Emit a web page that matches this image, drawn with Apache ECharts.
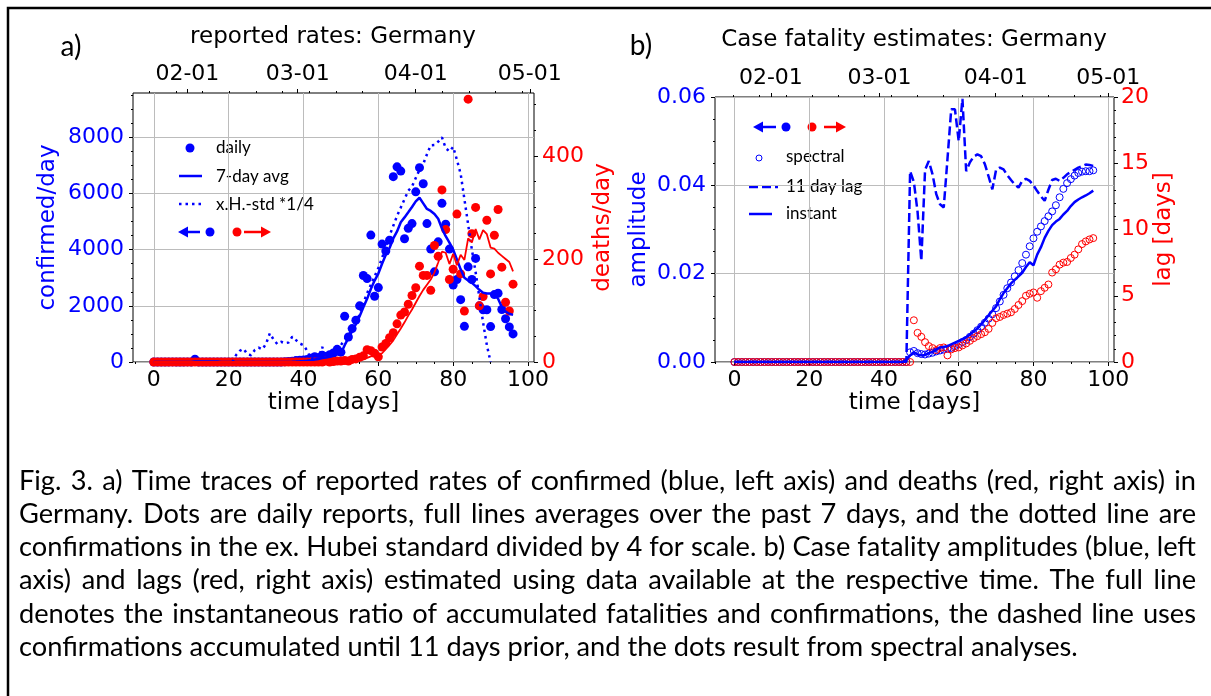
<!DOCTYPE html>
<html>
<head>
<meta charset="utf-8">
<title>Germany: reported rates and case fatality estimates</title>
<script src="https://cdn.jsdelivr.net/npm/echarts@6.0.0/dist/echarts.min.js"></script>
<style>
  html, body { margin: 0; padding: 0; background: #fff; }
  #chart { width: 1211px; height: 696px; }
</style>
</head>
<body>
<div id="chart"></div>
<script>
// day index 0 = 2020-01-23, one value per day (0..96)

// panel a) confirmed per day (left axis)
const confirmedDaily = [
  0, 0, 0, 0, 1, 4, 0, 1, 0, 3,
  0, 100, 0, 1, 0, 0, 2, 0, 0, 0,
  0, 0, 0, 0, 0, 0, 0, 0, 0, 0,
  0, 0, 0, 0, 1, 10, 20, 30, 50, 60,
  70, 90, 130, 190, 150, 240, 200, 260, 320, 450,
  350, 1630, 890, 1190, 1490, 2000, 3080, 2970, 4520, 2340,
  2650, 4200, 3950, 4340, 6600, 6950, 6800, 4390, 4760, 4930,
  6060, 6920, 6350, 4930, 4020, 3210, 4280, 5650, 4910, 4020,
  2740, 2940, 2220, 1270, 3390, 2940, 3690, 2000, 1860, 1860,
  1260, 2400, 2450, 1870, 1540, 1250, 1000
]
const confirmedAvg = [
  0, 0, 0, 0, 0, 0, 0, 0, 0, 0,
  0, 14, 14, 14, 14, 14, 15, 15, 0, 0,
  0, 0, 0, 0, 0, 0, 0, 0, 0, 0,
  0, 0, 0, 0, 0, 2, 4, 9, 16, 24,
  34, 47, 64, 89, 110, 140, 160, 190, 220, 270,
  300, 600, 850, 1100, 1350, 1630, 1950, 2250, 2600, 2900,
  3150, 3500, 3820, 4060, 4400, 4650, 4980, 5150, 5330, 5520,
  5720, 5850, 5650, 5450, 5380, 5270, 5100, 4750, 4480, 4250,
  4000, 3650, 3300, 3000, 2900, 2820, 2700, 2570, 2470, 2440,
  2440, 2420, 2250, 1960, 1800, 1720, 1680
]
// ex-Hubei standard divided by 4 (dotted)
const xHubeiQuarter = [
  null, null, null, null, null, null, null, null, null, null,
  null, null, null, null, null, null, null, null, null, null,
  null, 0, 250, 400, 470, 280, 240, 430, 510, 450,
  650, 1020, 800, 640, 720, 670, 690, 900, 780, 660,
  600, 400, 100, 150, 120, 540, 150, 250, 300, 420,
  600, 800, 950, 1150, 1400, 1700, 2100, 2450, 2750, 3050,
  3350, 3700, 4100, 4500, 4850, 5200, 5500, 5800, 6100, 6250,
  6550, 6850, 7050, 7400, 7720, 7730, 7850, 8000, 7620, 7500,
  7660, 7200, 6700, 5800, 4900, 4000, 3200, 2300, 1400, 600,
  0, null, null, null, null, null, null
]
// deaths per day (right axis)
const deathsDaily = [
  0, 0, 0, 0, 0, 0, 0, 0, 0, 0,
  0, 0, 0, 0, 0, 0, 0, 0, 0, 0,
  0, 0, 0, 0, 0, 0, 0, 0, 0, 0,
  0, 0, 0, 0, 0, 0, 0, 0, 0, 0,
  0, 0, 0, 0, 0, 0, 2, 0, 1, 2,
  2, 3, 2, 5, 6, 9, 12, 24, 22, 17,
  10, 29, 36, 47, 57, 74, 91, 97, 112, 129,
  144, 186, 168, 168, 139, 226, 205, 334, 257, 160,
  180, 287, 171, 99, 510, 249, 300, 109, 127, 275,
  171, 246, 296, 184, 116, 99, 151
]
const deathsAvg = [
  0, 0, 0, 0, 0, 0, 0, 0, 0, 0,
  0, 0, 0, 0, 0, 0, 0, 0, 0, 0,
  0, 0, 0, 0, 0, 0, 0, 0, 0, 0,
  0, 0, 0, 0, 0, 0, 0, 0, 0, 0,
  0, 0, 0, 0, 0, 0, 0, 0, 0, 1,
  1, 1, 2, 2, 3, 4, 5, 8, 11, 13,
  14, 17, 25, 33, 42, 54, 65, 77, 90, 102,
  115, 128, 140, 150, 160, 174, 193, 214, 212, 190,
  210, 188, 208, 198, 240, 232, 258, 238, 256, 248,
  222, 220, 212, 206, 200, 194, 176
]

// panel b) case fatality estimates
const spectralAmp = [
  0, 0, 0, 0, 0, 0, 0, 0, 0, 0,
  0, 0, 0, 0, 0, 0, 0, 0, 0, 0,
  0, 0, 0, 0, 0, 0, 0, 0, 0, 0,
  0, 0, 0, 0, 0, 0, 0, 0, 0, 0,
  0, 0, 0, 0, 0, 0, 0, 0.0022, 0.0025, 0.0020,
  0.0018, 0.0017, 0.0019, 0.0021, 0.0024, 0.0026, 0.0028, 0.0030, 0.0032, 0.0036,
  0.0040, 0.0045, 0.0050, 0.0057, 0.0064, 0.0072, 0.0080, 0.0089, 0.0098, 0.0108,
  0.0122, 0.0137, 0.0152, 0.0167, 0.0180, 0.0194, 0.0208, 0.0224, 0.0243, 0.0262,
  0.0280, 0.0295, 0.0307, 0.0319, 0.0330, 0.0341, 0.0355, 0.0373, 0.0392, 0.0405,
  0.0414, 0.0422, 0.0428, 0.0431, 0.0432, 0.0432, 0.0434
]
const spectralLag = [
  0, 0, 0, 0, 0, 0, 0, 0, 0, 0,
  0, 0, 0, 0, 0, 0, 0, 0, 0, 0,
  0, 0, 0, 0, 0, 0, 0, 0, 0, 0,
  0, 0, 0, 0, 0, 0, 0, 0, 0, 0,
  0, 0, 0, 0, 0, 0, 0, 0, 3.15, 2.2,
  1.9, 1.5, 1.2, 1.05, 0.9, 1.05, 1.1, 0.5, 0.95, 1.05,
  1.1, 1.25, 1.4, 1.6, 1.8, 1.95, 2.1, 2.25, 2.5, 2.95,
  3.3, 3.4, 3.55, 3.65, 3.75, 4.0, 4.3, 4.6, 5.0, 5.15,
  5.25, 4.85, 5.35, 5.6, 5.85, 6.75, 7.0, 7.35, 7.5, 7.55,
  7.85, 8.1, 8.5, 8.9, 9.1, 9.25, 9.35
]
const lag11Amp = [
  0, 0, 0, 0, 0, 0, 0, 0, 0, 0,
  0, 0, 0, 0, 0, 0, 0, 0, 0, 0,
  0, 0, 0, 0, 0, 0, 0, 0, 0, 0,
  0, 0, 0, 0, 0, 0, 0, 0, 0, 0,
  0, 0, 0, 0, 0, 0, 0, 0.0432, 0.0408, 0.0340,
  0.0229, 0.0435, 0.0455, 0.0425, 0.0380, 0.0357, 0.0350, 0.0460, 0.0572, 0.0572,
  0.0500, 0.0596, 0.0432, 0.0452, 0.0465, 0.0470, 0.0466, 0.0448, 0.0420, 0.0391,
  0.0435, 0.0440, 0.0436, 0.0423, 0.0412, 0.0402, 0.0395, 0.0410, 0.0415, 0.0410,
  0.0400, 0.0387, 0.0375, 0.0365, 0.0390, 0.0412, 0.0415, 0.0410, 0.0417, 0.0425,
  0.0430, 0.0435, 0.0440, 0.0443, 0.0447, 0.0446, 0.0444
]
const instantAmp = [
  0, 0, 0, 0, 0, 0, 0, 0, 0, 0,
  0, 0, 0, 0, 0, 0, 0, 0, 0, 0,
  0, 0, 0, 0, 0, 0, 0, 0, 0, 0,
  0, 0, 0, 0, 0, 0, 0, 0, 0, 0,
  0, 0, 0, 0, 0, 0, 0.0005, 0.0015, 0.0022, 0.0017,
  0.0015, 0.0016, 0.0020, 0.0023, 0.0028, 0.0033, 0.0034, 0.0036, 0.0040, 0.0044,
  0.0048, 0.0052, 0.0056, 0.0062, 0.0069, 0.0076, 0.0085, 0.0095, 0.0106, 0.0116,
  0.0126, 0.0142, 0.0156, 0.0167, 0.0178, 0.0186, 0.0194, 0.0202, 0.0215, 0.0226,
  0.0219, 0.0243, 0.0260, 0.0281, 0.0297, 0.0310, 0.0318, 0.0324, 0.0334, 0.0342,
  0.0353, 0.0362, 0.0368, 0.0373, 0.0377, 0.0382, 0.0388
]

// tick labels
const dayTicks = [0, 20, 40, 60, 80, 100]
const monthDays = [9, 38, 69, 99]
const monthLabels = ['02-01', '03-01', '04-01', '05-01']
const weekDays = [-1, 6, 13, 20, 27, 34, 41, 48, 55, 62, 76, 83, 90, 97]
const confirmedTicks = [0, 2000, 4000, 6000, 8000]
const deathTicks = [0, 200, 400]
const amplitudeTicks = [0, 0.02, 0.04, 0.06]
const lagTicks = [0, 5, 10, 15, 20]

const captionLines = [
  'Fig. 3. a) Time traces of reported rates of confirmed (blue, left axis) and deaths (red, right axis) in',
  'Germany. Dots are daily reports, full lines averages over the past 7 days, and the dotted line are',
  'confirmations in the ex. Hubei standard divided by 4 for scale. b) Case fatality amplitudes (blue, left',
  'axis) and lags (red, right axis) estimated using data available at the respective time. The full line',
  'denotes the instantaneous ratio of accumulated fatalities and confirmations, the dashed line uses',
  'confirmations accumulated until 11 days prior, and the dots result from spectral analyses.'
]

// styles
const BLUE = '#0000ff'
const RED = '#ff0000'
const INK = '#000000'
const GRID_GRAY = '#bcbcbc'
const AXIS_FONT = 'DejaVu Sans'
const NOTE_FONT = 'Lato'

const toPairs = arr => arr.map((v, i) => [i, v])

// minor tick positions between the major ones
const minorTicks = (from, to, step, majorStep) => {
  const out = []
  const n = Math.round((to - from) / step)
  for (let k = 0; k <= n; k++) {
    const v = +(from + k * step).toFixed(6)
    const r = v / majorStep
    if (Math.abs(r - Math.round(r)) > 1e-6) out.push(v)
  }
  return out
}

const axis = o => ({
  type: 'value',
  gridIndex: o.grid,
  position: o.position,
  min: o.min,
  max: o.max,
  name: o.name || '',
  nameLocation: 'middle',
  nameGap: o.nameGap || 0,
  nameTextStyle: { color: o.color || INK, fontFamily: AXIS_FONT, fontSize: 23 },
  axisLine: { show: false, onZero: false },
  axisTick: {
    show: true,
    inside: false,
    length: o.minor ? 2 : 4,
    customValues: o.ticks,
    lineStyle: { color: INK, width: 1 }
  },
  axisLabel: o.minor ? { show: false } : {
    show: true,
    customValues: o.ticks,
    formatter: o.format,
    color: o.color || INK,
    fontFamily: AXIS_FONT,
    fontSize: 22,
    margin: o.margin
  },
  splitLine: { show: !!o.split, lineStyle: { color: GRID_GRAY, width: 1 } },
  minorTick: { show: false },
  minorSplitLine: { show: false }
})

const plain = v => String(v)
const monthName = v => monthLabels[monthDays.indexOf(v)]

// ---- decorations: frame, panel letters, titles, legends, caption ----
const deco = []
const text = (str, x, y, font, fill, align) => ({
  type: 'text', x, y, silent: true,
  style: {
    text: str, font, fill: fill || INK,
    textAlign: align || 'left', textVerticalAlign: 'middle',
    align: align || 'left', verticalAlign: 'middle'
  }
})
const seg = (pts, color, width, dash) => ({
  type: 'polyline', silent: true,
  shape: { points: pts },
  style: { stroke: color, lineWidth: width, lineDash: dash || null, fill: null }
})
const dot = (cx, cy, r, color, hollow) => ({
  type: 'circle', silent: true,
  shape: { cx, cy, r },
  style: hollow ? { fill: null, stroke: color, lineWidth: 1 } : { fill: color }
})
const head = (tipX, y, dir, color) => ({
  type: 'polygon', silent: true,
  shape: { points: [[tipX, y], [tipX - dir * 10, y - 5.5], [tipX - dir * 10, y + 5.5]] },
  style: { fill: color }
})

deco.push(seg([[8, 700], [8, 8], [1215, 8]], INK, 2.5))
deco.push(text('a)', 71, 47, '28px ' + NOTE_FONT, INK, 'center'))
deco.push(text('b)', 641, 46, '28px ' + NOTE_FONT, INK, 'center'))
deco.push(text('reported rates: Germany', 333, 37, '23px "' + AXIS_FONT + '"', INK, 'center'))
deco.push(text('Case fatality estimates: Germany', 914, 40, '23px "' + AXIS_FONT + '"', INK, 'center'))

// legend a)
const legFont = '17px ' + NOTE_FONT
deco.push(dot(190, 148, 4.5, BLUE))
deco.push(text('daily', 216, 148, legFont))
deco.push(seg([[179, 176], [202, 176]], BLUE, 2.5))
deco.push(text('7-day avg', 216, 177, legFont))
deco.push(seg([[179, 204], [202, 204]], BLUE, 2.5, [2.5, 4]))
deco.push(text('x.H.-std *1/4', 216, 205, legFont))
deco.push(seg([[186, 232], [200, 232]], BLUE, 2.5))
deco.push(head(178, 232, -1, BLUE))
deco.push(dot(210, 232, 4.5, BLUE))
deco.push(dot(237, 232, 4.5, RED))
deco.push(seg([[244, 232], [263, 232]], RED, 2.5))
deco.push(head(271, 232, 1, RED))

// legend b)
deco.push(seg([[761, 127], [776, 127]], BLUE, 2.5))
deco.push(head(753, 127, -1, BLUE))
deco.push(dot(786, 127, 4.5, BLUE))
deco.push(dot(812, 127, 4.5, RED))
deco.push(seg([[824, 127], [838, 127]], RED, 2.5))
deco.push(head(846, 127, 1, RED))
deco.push(dot(759, 158, 3, BLUE, true))
deco.push(text('spectral', 786, 157, legFont))
deco.push(seg([[749, 187], [778, 187]], BLUE, 2.5, [9, 4]))
deco.push(text('11 day lag', 786, 187, legFont))
deco.push(seg([[749, 214], [772, 214]], BLUE, 2.5))
deco.push(text('instant', 786, 214, legFont))

// caption, justified word by word like the original
const measure = document.createElement('canvas').getContext('2d')
const widthOf = (s, font) => { measure.font = font; return measure.measureText(s).width }
const capLeft = 19
const capWidth = 1177
const baseSize = 22
let widest = 0
captionLines.slice(0, 5).forEach(line => {
  widest = Math.max(widest, widthOf(line, baseSize + 'px ' + NOTE_FONT))
})
const capSize = baseSize * (capWidth - 2) / widest
const capFont = capSize.toFixed(2) + 'px ' + NOTE_FONT
captionLines.forEach((line, i) => {
  const y = 481 + i * 33.2
  const words = line.split(' ')
  const widths = words.map(w => widthOf(w, capFont))
  const total = widths.reduce((a, b) => a + b, 0)
  const last = i === captionLines.length - 1
  const gap = last ? widthOf(' ', capFont) : (capWidth - total) / (words.length - 1)
  let x = capLeft
  words.forEach((w, k) => {
    deco.push(text(w, x, y, capFont))
    x += widths[k] + gap
  })
})

const chart = echarts.init(document.getElementById('chart'), null, { renderer: 'canvas' })

const dots = color => ({ color, opacity: 1 })
const rings = color => ({ color: 'rgba(0,0,0,0)', borderColor: color, borderWidth: 1, opacity: 1 })

chart.setOption({
  backgroundColor: '#ffffff',
  animation: false,
  grid: [
    { left: 133, top: 93, width: 401, height: 269, show: true, borderColor: INK, borderWidth: 1, backgroundColor: 'transparent', outerBoundsMode: 'none' },
    { left: 715, top: 97, width: 399, height: 265, show: true, borderColor: INK, borderWidth: 1, backgroundColor: 'transparent', outerBoundsMode: 'none' }
  ],
  xAxis: [
    axis({ grid: 0, position: 'bottom', min: -5.56, max: 101.6, ticks: dayTicks, format: plain, margin: 7, split: true, name: 'time [days]', nameGap: 30 }),
    axis({ grid: 0, position: 'bottom', min: -5.56, max: 101.6, ticks: minorTicks(-5, 100, 5, 20), minor: true }),
    axis({ grid: 0, position: 'top', min: -5.3, max: 100.1, ticks: monthDays, format: monthName, margin: 8 }),
    axis({ grid: 0, position: 'top', min: -5.3, max: 100.1, ticks: weekDays, minor: true }),
    axis({ grid: 1, position: 'bottom', min: -5.2, max: 101.55, ticks: dayTicks, format: plain, margin: 7, split: true, name: 'time [days]', nameGap: 30 }),
    axis({ grid: 1, position: 'bottom', min: -5.2, max: 101.55, ticks: minorTicks(-5, 100, 5, 20), minor: true }),
    axis({ grid: 1, position: 'top', min: -5.9, max: 100.55, ticks: monthDays, format: monthName, margin: 8 }),
    axis({ grid: 1, position: 'top', min: -5.9, max: 100.55, ticks: weekDays, minor: true })
  ],
  yAxis: [
    axis({ grid: 0, position: 'left', min: 0, max: 9580, ticks: confirmedTicks, format: plain, color: BLUE, margin: 9, split: true, name: 'confirmed/day', nameGap: 73 }),
    axis({ grid: 0, position: 'left', min: 0, max: 9580, ticks: minorTicks(0, 9500, 500, 2000), minor: true }),
    axis({ grid: 0, position: 'right', min: 0, max: 522, ticks: deathTicks, format: plain, color: RED, margin: 8, name: 'deaths/day', nameGap: 58 }),
    axis({ grid: 0, position: 'right', min: 0, max: 522, ticks: minorTicks(0, 500, 50, 200), minor: true }),
    axis({ grid: 1, position: 'left', min: 0, max: 0.06, ticks: amplitudeTicks, format: v => v.toFixed(2), color: BLUE, margin: 9, split: true, name: 'amplitude', nameGap: 64 }),
    axis({ grid: 1, position: 'left', min: 0, max: 0.06, ticks: minorTicks(0, 0.06, 0.005, 0.02), minor: true }),
    axis({ grid: 1, position: 'right', min: 0, max: 20, ticks: lagTicks, format: plain, color: RED, margin: 7, name: 'lag [days]', nameGap: 37 }),
    axis({ grid: 1, position: 'right', min: 0, max: 20, ticks: minorTicks(0, 20, 1, 5), minor: true })
  ],
  series: [
    { name: 'daily', type: 'scatter', xAxisIndex: 0, yAxisIndex: 0, data: toPairs(confirmedDaily),
      symbol: 'circle', symbolSize: 9, itemStyle: dots(BLUE), silent: true },
    { name: '7-day avg', type: 'line', xAxisIndex: 0, yAxisIndex: 0, data: toPairs(confirmedAvg),
      showSymbol: false, lineStyle: { color: BLUE, width: 2.5 }, silent: true },
    { name: 'x.H.-std *1/4', type: 'line', xAxisIndex: 0, yAxisIndex: 0, data: toPairs(xHubeiQuarter),
      showSymbol: false, connectNulls: false, lineStyle: { color: BLUE, width: 2.5, type: [2.5, 4] }, silent: true },
    { name: 'deaths daily', type: 'scatter', xAxisIndex: 0, yAxisIndex: 2, data: toPairs(deathsDaily),
      symbol: 'circle', symbolSize: 9, itemStyle: dots(RED), silent: true },
    { name: 'deaths 7-day avg', type: 'line', xAxisIndex: 0, yAxisIndex: 2, data: toPairs(deathsAvg),
      showSymbol: false, lineStyle: { color: RED, width: 1.8 }, silent: true },

    { name: 'spectral', type: 'scatter', xAxisIndex: 4, yAxisIndex: 4, data: toPairs(spectralAmp),
      symbol: 'circle', symbolSize: 7, itemStyle: rings(BLUE), silent: true },
    { name: '11 day lag', type: 'line', xAxisIndex: 4, yAxisIndex: 4, data: toPairs(lag11Amp),
      showSymbol: false, lineStyle: { color: BLUE, width: 2.5, type: [9, 4] }, silent: true },
    { name: 'instant', type: 'line', xAxisIndex: 4, yAxisIndex: 4, data: toPairs(instantAmp),
      showSymbol: false, lineStyle: { color: BLUE, width: 2.5 }, silent: true },
    { name: 'spectral lag', type: 'scatter', xAxisIndex: 4, yAxisIndex: 6, data: toPairs(spectralLag),
      symbol: 'circle', symbolSize: 7, itemStyle: rings(RED), silent: true }
  ],
  graphic: { elements: deco }
})
</script>
</body>
</html>
